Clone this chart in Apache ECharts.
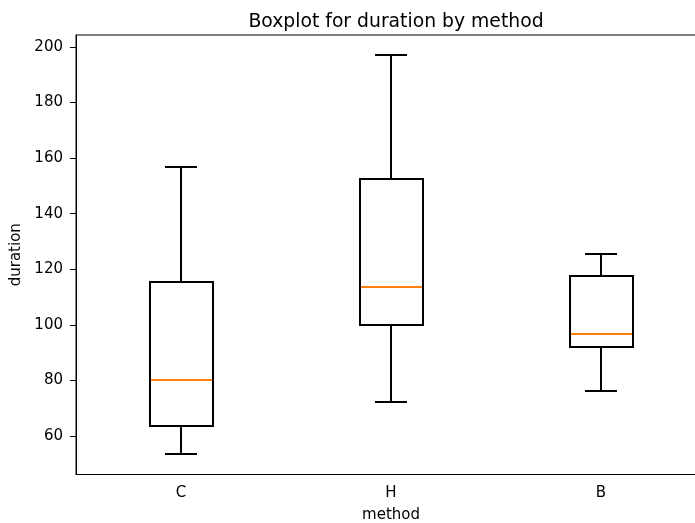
<!DOCTYPE html>
<html>
<head>
<meta charset="utf-8">
<script src="https://cdn.jsdelivr.net/npm/echarts@6/dist/echarts.min.js"></script>
<style>
html,body{margin:0;padding:0;background:#fff;overflow:hidden;}
#chart{width:695px;height:523px;}
</style>
</head>
<body>
<div id="chart"></div>
<script>
const categories = ['C', 'H', 'B'];
const whiskerLow = [53.4, 72.2, 76.4];
const q1 = [63.6, 99.8, 91.9];
const medians = [80.1, 113.6, 96.8];
const q3 = [115.5, 152.4, 117.7];
const whiskerHigh = [156.7, 197.1, 125.5];
const yTicks = [60, 80, 100, 120, 140, 160, 180, 200];

const boxData = categories.map((c, i) => [i, whiskerLow[i], q1[i], medians[i], q3[i], whiskerHigh[i]]);

const chart = echarts.init(document.getElementById('chart'), null, {renderer: 'canvas'});
const font = 'DejaVu Sans';
const px = v => Math.round(v);

chart.setOption({
  animation: false,
  backgroundColor: '#fff',
  title: {
    text: 'Boxplot for duration by method',
    left: 391, top: 8, textAlign: 'center',
    textStyle: {fontFamily: font, fontSize: 18.8, fontWeight: 'normal', color: '#000'}
  },
  grid: {left: 76, top: 35, right: -11, bottom: 48.5, outerBoundsMode: 'none', containLabel: false,
         show: true, borderColor: '#000', borderWidth: 1, backgroundColor: 'transparent'},
  xAxis: {
    type: 'category', data: categories, boundaryGap: true,
    name: 'method', nameLocation: 'middle', nameGap: 33,
    nameTextStyle: {fontFamily: font, fontSize: 15, color: '#000'},
    axisLine: {lineStyle: {color: '#000', width: 1}},
    axisTick: {alignWithLabel: true, length: 6, lineStyle: {color: '#000'}},
    axisLabel: {fontFamily: font, fontSize: 15, color: '#000', margin: 11},
    splitLine: {show: false}
  },
  yAxis: {
    type: 'value', min: 46.2, max: 204.3,
    name: 'duration', nameLocation: 'middle', nameGap: 45,
    nameTextStyle: {fontFamily: font, fontSize: 15, color: '#000'},
    axisLine: {show: true, lineStyle: {color: '#000', width: 1}},
    axisTick: {show: true, length: 6, lineStyle: {color: '#000'}, customValues: yTicks},
    axisLabel: {fontFamily: font, fontSize: 15, color: '#000', margin: 13, customValues: yTicks},
    splitLine: {show: false}
  },
  series: [{
    type: 'custom',
    data: boxData,
    encode: {x: 0, y: [1, 2, 3, 4, 5]},
    renderItem: function (params, api) {
      const i = api.value(0);
      const band = api.size([1, 0])[0];
      const bw = band * 0.3;
      const cw = bw / 2;
      const c = api.coord([i, api.value(3)]);
      const cx = px(c[0]);
      const yLo = px(api.coord([i, api.value(1)])[1]);
      const yQ1 = px(api.coord([i, api.value(2)])[1]);
      const yMed = px(api.coord([i, api.value(3)])[1]);
      const yQ3 = px(api.coord([i, api.value(4)])[1]);
      const yHi = px(api.coord([i, api.value(5)])[1]);
      const bl = px(c[0] - bw / 2), br = px(c[0] + bw / 2);
      const cl = px(c[0] - cw / 2), cr = px(c[0] + cw / 2);
      const ls = {stroke: '#000', lineWidth: 2, fill: null};
      return {
        type: 'group',
        children: [
          {type: 'line', shape: {x1: cx, y1: yQ1, x2: cx, y2: yLo}, style: ls},
          {type: 'line', shape: {x1: cx, y1: yQ3, x2: cx, y2: yHi}, style: ls},
          {type: 'line', shape: {x1: cl, y1: yLo, x2: cr, y2: yLo}, style: ls},
          {type: 'line', shape: {x1: cl, y1: yHi, x2: cr, y2: yHi}, style: ls},
          {type: 'rect', shape: {x: bl, y: yQ3, width: br - bl, height: yQ1 - yQ3}, style: {stroke: '#000', lineWidth: 2, fill: 'none'}},
          {type: 'line', shape: {x1: bl + 1, y1: yMed, x2: br - 1, y2: yMed}, style: {stroke: '#ff7f0e', lineWidth: 2}}
        ]
      };
    }
  }]
});
</script>
</body>
</html>
